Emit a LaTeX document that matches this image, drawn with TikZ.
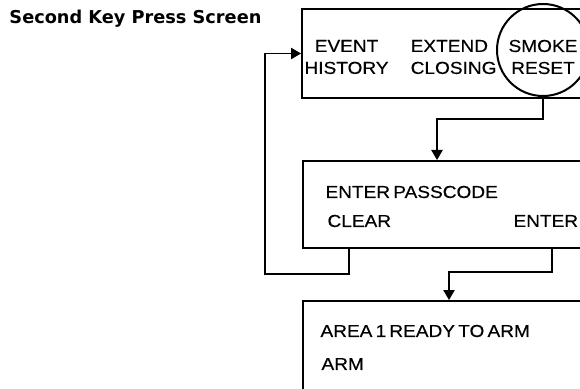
\documentclass[tikz,border=0pt]{standalone}
\usepackage{fontspec}
\setmainfont{Liberation Sans}
\newfontfamily\titlefont{DejaVu Sans}
\newfontfamily\screenfont[FakeStretch=1.1, FakeBold=0.4, WordSpace=0.6]{Liberation Sans}
\usetikzlibrary{arrows.meta}

\tikzset{every picture/.style={line width=0.75pt}}
\tikzset{
  screen/.style={draw, line width=1.5pt, rectangle, anchor=north west, inner sep=0pt},
  keytext/.style={inner sep=0pt, font=\screenfont\fontsize{13}{16.5}\selectfont},
  linetext/.style={inner sep=0pt, anchor=west, font=\screenfont\fontsize{13}{15}\selectfont},
  link/.style={line width=1.1pt, -{Triangle[length=7.5pt,width=8.5pt]}}
}

\begin{document}
\begin{tikzpicture}[x=0.75pt,y=0.75pt,yscale=-1,xscale=1]
	\useasboundingbox (0,0) rectangle (580,388);
	\clip (0,0) rectangle (580,388);

	% Text Node
	\node[inner sep=0pt, anchor=west, font=\titlefont\bfseries\fontsize{13.3}{15}\selectfont] (title) at (9,19) {Second Key Press Screen};

	%Shape: Rectangle [id:main]
	\node[screen, minimum width=239.25pt, minimum height=66.75pt] (main) at (301,8) {};
	%Shape: Rectangle [id:passcode]
	\node[screen, minimum width=238.5pt, minimum height=65.25pt] (passcode) at (302,160) {};
	%Shape: Rectangle [id:ready]
	\node[screen, minimum width=238.5pt, minimum height=90pt] (ready) at (302,300) {};

	%Shape: Circle [id:smoke]
	\node[draw, circle, line width=1.5pt, minimum size=69pt, inner sep=0pt] (smoke) at (543,50) {};

	% Text Node
	\node[keytext, align=center, anchor=west] (history) at (304,57) {EVENT\\HISTORY};
	% Text Node
	\node[keytext, align=left, anchor=east] (closing) at (497,57) {EXTEND\\CLOSING};
	% Text Node
	\node[keytext, align=center] (reset) at (543,57) {SMOKE\\RESET};

	% Text Node
	\node[linetext] (prompt) at (325,192) {ENTER PASSCODE};
	% Text Node
	\node[linetext] (clear) at (327,221) {CLEAR};
	% Text Node
	\node[linetext] (enter) at (513,221) {ENTER};

	% Text Node
	\node[linetext] (area) at (320,331) {AREA 1 READY TO ARM};
	% Text Node
	\node[linetext] (arm) at (321,364) {ARM};

	% bend points of the connectors
	\coordinate (toprompt) at (437,119);
	\coordinate (clearfoot) at (349,274);
	\coordinate (backline) at (265,274);
	\coordinate (enterfoot) at (552,272);
	\coordinate (toready) at (449,272);

	%Straight Lines [id:smoke-passcode]
	\draw[link] (smoke.south) |- (toprompt) -- (toprompt |- passcode.north);
	%Straight Lines [id:clear-main]
	\draw[link] (passcode.south -| clearfoot) -- (clearfoot) -- (backline) |- (main.west);
	%Straight Lines [id:enter-ready]
	\draw[link] (passcode.south -| enterfoot) -- (enterfoot) -- (toready) -- (toready |- ready.north);

\end{tikzpicture}
\end{document}
